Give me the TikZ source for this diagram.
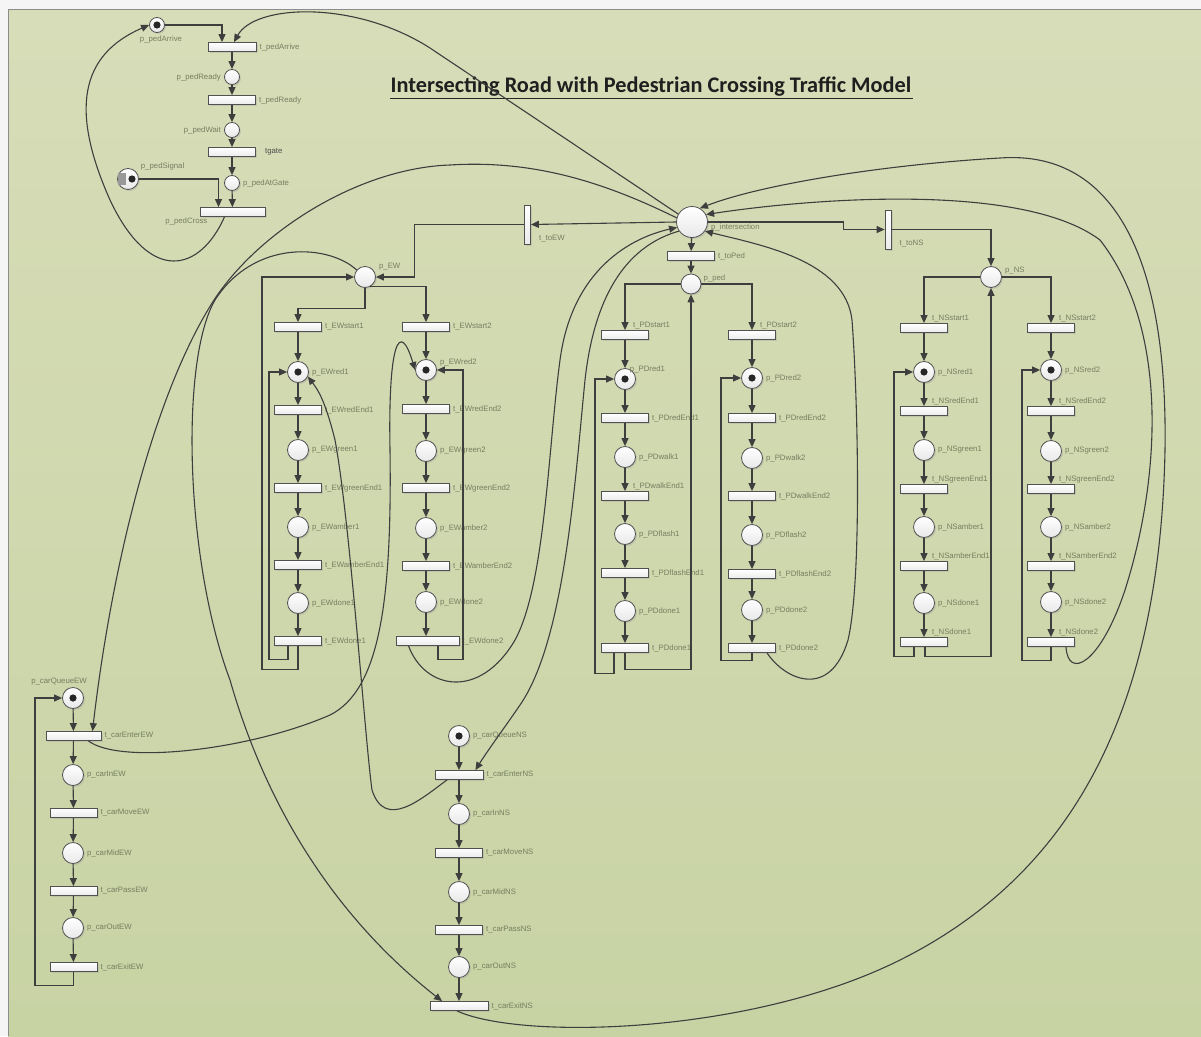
\documentclass[tikz,border=0pt]{standalone}
\usepackage{fontspec}
\setmainfont{Liberation Sans}
\newfontfamily\titlefont{Carlito}
\usetikzlibrary{arrows.meta,shadows}
\definecolor{bgtop}{RGB}{215,221,184}
\definecolor{bgbot}{RGB}{200,211,164}
\definecolor{ln}{RGB}{62,62,62}
\definecolor{labc}{RGB}{118,126,96}
\begin{document}
\begin{tikzpicture}[x=1pt,y=-1pt,
  arc/.style={draw=ln, line width=1.1pt, -{Triangle[length=8pt,width=7pt]}},
  pl/.style={circle, draw=ln!90, line width=0.8pt, inner sep=0pt, minimum size=21pt,
    top color=white, bottom color=black!9,
    drop shadow={shadow xshift=1.5pt, shadow yshift=-1.5pt, fill=black!40, opacity=0.3}},
  spl/.style={pl, minimum size=15pt},
  bpl/.style={pl, minimum size=31pt},
  tok/.style={path picture={\fill[black!85] (path picture bounding box.center) circle (3.6pt);}},
  tr/.style={rectangle, draw=ln!90, line width=0.8pt, inner sep=0pt, minimum width=47pt, minimum height=9pt,
    top color=white, bottom color=black!8,
    drop shadow={shadow xshift=1.5pt, shadow yshift=-1.5pt, fill=black!40, opacity=0.3}},
  vtr/.style={tr, minimum width=6pt, minimum height=39pt},
  lab/.style={font=\fontsize{7.8}{8}\selectfont, text=labc, inner sep=0pt},
  lr/.style={label={[lab,anchor=west,xshift=3pt]east:#1}},
  ll/.style={label={[lab,anchor=east,xshift=-3pt]west:#1}},
  lur/.style={label={[lab,anchor=south west,xshift=-16pt,yshift=1pt]north east:#1}},
]
\useasboundingbox (0,0) rectangle (1201,1036);
% canvas
\fill[black!4] (0,0) rectangle (1201,1036);
\shade[top color=bgtop, bottom color=bgbot] (8,9) rectangle (1201,1036);
\draw[black!45, line width=0.8pt] (8,1036) -- (8,9) -- (1201,9);

% title
\node[inner sep=0pt, text=black!88] (title) at (651,87)
  {\titlefont\bfseries\fontsize{22.3}{24}\selectfont Intersecting Road with Pedestrian Crossing Traffic Model};
\draw[black!85, line width=1pt] (390,98) -- (913,98);

% ---------- pedestrian request cycle (top left)
\node[spl,tok,label={[lab,anchor=north,xshift=4pt,yshift=-3pt]south:p\_pedArrive}] (pa) at (157,25) {};
\node[tr,minimum width=48pt,lr=t\_pedArrive] (ta) at (232,47) {};
\node[spl,ll=p\_pedReady] (pb) at (232,77) {};
\node[tr,lr=t\_pedReady] (tb) at (232,100) {};
\node[spl,ll=p\_pedWait] (pc) at (232,130) {};
\node[tr,label={[lab,text=black!70,anchor=west,xshift=9pt]east:tgate}] (tc) at (232,152) {};
\node[spl,lr=p\_pedAtGate] (pd) at (232,183) {};
\node[tr,minimum width=65pt,label={[lab,anchor=north east,xshift=8pt,yshift=-1pt]south west:p\_pedCross}] (td) at (232.5,212) {};
\node[pl,path picture={\fill[black!85] ([xshift=4pt]path picture bounding box.center) circle (3.6pt);},
      label={[lab,anchor=south west,xshift=5pt,yshift=1pt]north east:p\_pedSignal}] (pe) at (128,179) {};
\node[fill=black!40, inner sep=0pt, minimum width=8pt, minimum height=12pt] (pebox) at (122,179) {};

\foreach \a/\b in {ta/pb, pb/tb, tb/pc, pc/tc, tc/pd, pd/td} \draw[arc] (\a) -- (\b);
\draw[arc] (pa.east) -| ([xshift=-10pt]ta.north);
\draw[arc] (pe.east) -| ([xshift=-14pt]td.north);
\draw[arc] ([xshift=-8pt]td.south) .. controls (200,272) and (150,285) .. (110,200)
  .. controls (70,110) and (80,55) .. (pa.west);

% ---------- central resource and selectors
\node[bpl,label={[lab,anchor=west,xshift=3pt,yshift=-5pt]east:p\_intersection}] (p0) at (692,222) {};
\node[vtr,label={[lab,anchor=west,xshift=8pt,yshift=6pt]south east:t\_toEW}] (tvl) at (527.5,224.5) {};
\node[vtr,label={[lab,anchor=west,xshift=8pt,yshift=6pt]south east:t\_toNS}] (tvr) at (888,229.5) {};
\node[tr,lr=t\_toPed] (tm) at (691,256) {};
\node[pl,minimum size=20pt,label={[lab,anchor=west,xshift=2pt,yshift=6pt]east:p\_ped}] (pM) at (691,284) {};
\node[pl,label={[lab,anchor=west,xshift=3pt,yshift=10pt]east:p\_EW}] (pL) at (365,277) {};
\node[pl,label={[lab,anchor=west,xshift=3pt,yshift=6pt]east:p\_NS}] (pR) at (991,277) {};

\draw[arc] (p0.west) -- (tvl.east);
\draw[arc] (tvl.west) -- ++(-109.5,0) |- (pL.east);
\draw[arc] (p0.east) -- ++(136,0) |- (tvr.west);
\draw[arc] (tvr.east) -| (pR.north);
\draw[arc] (p0) -- (tm);
\draw[arc] (tm) -- (pM);
\draw[arc] (p0.150) -- (430,48) .. controls (355,0) and (255,4) .. ([xshift=2pt]ta.north);

% ---------- EW signal heads (left group)
\node[tr,lr=t\_EWstart1] (tL1a) at (298,327) {};
\node[pl,tok,lr=p\_EWred1] (pL1a) at (298,372) {};
\node[tr,lr=t\_EWredEnd1] (tL1b) at (298,410) {};
\node[pl,lr=p\_EWgreen1] (pL1b) at (298,450) {};
\node[tr,lr=t\_EWgreenEnd1] (tL1c) at (298,488) {};
\node[pl,lr=p\_EWamber1] (pL1c) at (298,527) {};
\node[tr,lr=t\_EWamberEnd1] (tL1d) at (298,565) {};
\node[pl,lr=p\_EWdone1] (pL1d) at (298,603) {};
\node[tr,lr=t\_EWdone1] (tL1e) at (298,641) {};

\node[tr,lr=t\_EWstart2] (tL2a) at (426,327) {};
\node[pl,tok,label={[lab,anchor=west,xshift=3pt,yshift=8pt]east:p\_EWred2}] (pL2a) at (426,370) {};
\node[tr,lr=t\_EWredEnd2] (tL2b) at (426,409) {};
\node[pl,lr=p\_EWgreen2] (pL2b) at (426,451) {};
\node[tr,lr=t\_EWgreenEnd2] (tL2c) at (426,488) {};
\node[pl,lr=p\_EWamber2] (pL2c) at (426,528) {};
\node[tr,lr=t\_EWamberEnd2] (tL2d) at (426,566) {};
\node[pl,lr=p\_EWdone2] (pL2d) at (426,602) {};
\node[tr,minimum width=63pt,lr=t\_EWdone2] (tL2e) at (427.5,641) {};

\foreach \a/\b in {tL1a/pL1a, pL1a/tL1b, tL1b/pL1b, pL1b/tL1c, tL1c/pL1c, pL1c/tL1d, tL1d/pL1d, pL1d/tL1e,
                   tL2a/pL2a, pL2a/tL2b, tL2b/pL2b, pL2b/tL2c, tL2c/pL2c, pL2c/tL2d, tL2d/pL2d}
  \draw[arc] (\a) -- (\b);
\draw[arc] (pL2d.south) -- (pL2d.south |- tL2e.north);
\draw[arc] (pL.south) -- ++(0,20.5) -| (tL1a.north);
\draw[arc] (pL.-60) -| (tL2a.north);
\draw[arc] ([xshift=-10pt]tL1e.south) -- ++(0,13.5) -- ++(-19,0) |- (pL1a.west);
\draw[arc] (tL1e.south) -- ++(0,23.5) -- ++(-36,0) |- (pL.west);
\draw[arc] ([xshift=10.5pt]tL2e.south) -- ++(0,13.5) -- ++(25,0) |- (pL2a.east);

% ---------- pedestrian signal heads (middle group)
\node[tr,lur=t\_PDstart1] (tM1a) at (625,335) {};
\node[pl,tok,label={[lab,anchor=south west,xshift=-3pt,yshift=-2pt]north east:p\_PDred1}] (pM1a) at (625,379) {};
\node[tr,lr=t\_PDredEnd1] (tM1b) at (625,418) {};
\node[pl,lr=p\_PDwalk1] (pM1b) at (625,457) {};
\node[tr,lur=t\_PDwalkEnd1] (tM1c) at (625,496) {};
\node[pl,lr=p\_PDflash1] (pM1c) at (625,534) {};
\node[tr,lr=t\_PDflashEnd1] (tM1d) at (625,573) {};
\node[pl,lr=p\_PDdone1] (pM1d) at (625,611) {};
\node[tr,lr=t\_PDdone1] (tM1e) at (625,648) {};

\node[tr,lur=t\_PDstart2] (tM2a) at (752,335) {};
\node[pl,tok,lr=p\_PDred2] (pM2a) at (752,378) {};
\node[tr,lr=t\_PDredEnd2] (tM2b) at (752,418) {};
\node[pl,lr=p\_PDwalk2] (pM2b) at (752,458) {};
\node[tr,lr=t\_PDwalkEnd2] (tM2c) at (752,496) {};
\node[pl,lr=p\_PDflash2] (pM2c) at (752,535) {};
\node[tr,lr=t\_PDflashEnd2] (tM2d) at (752,574) {};
\node[pl,lr=p\_PDdone2] (pM2d) at (752,610) {};
\node[tr,lr=t\_PDdone2] (tM2e) at (752,648) {};

\foreach \a/\b in {tM1a/pM1a, pM1a/tM1b, tM1b/pM1b, pM1b/tM1c, tM1c/pM1c, pM1c/tM1d, tM1d/pM1d, pM1d/tM1e,
                   tM2a/pM2a, pM2a/tM2b, tM2b/pM2b, pM2b/tM2c, tM2c/pM2c, pM2c/tM2d, tM2d/pM2d, pM2d/tM2e}
  \draw[arc] (\a) -- (\b);
\draw[arc] (pM.west) -| (tM1a.north);
\draw[arc] (pM.east) -| (tM2a.north);
\draw[arc] ([xshift=-11pt]tM1e.south) -- ++(0,20.5) -- ++(-19,0) |- (pM1a.west);
\draw[arc] (tM1e.south) -- ++(0,16.5) -| (pM.south);
\draw[arc] (tM2e.south) -- ++(0,7.5) -- ++(-31,0) |- (pM2a.west);

% ---------- NS signal heads (right group)
\node[tr,lur=t\_NSstart1] (tR1a) at (924,328) {};
\node[pl,tok,lr=p\_NSred1] (pR1a) at (924,372) {};
\node[tr,lur=t\_NSredEnd1] (tR1b) at (924,411) {};
\node[pl,lr=p\_NSgreen1] (pR1b) at (924,450) {};
\node[tr,lur=t\_NSgreenEnd1] (tR1c) at (924,489) {};
\node[pl,lr=p\_NSamber1] (pR1c) at (924,527) {};
\node[tr,lur=t\_NSamberEnd1] (tR1d) at (924,566) {};
\node[pl,lr=p\_NSdone1] (pR1d) at (924,603) {};
\node[tr,lur=t\_NSdone1] (tR1e) at (924,642) {};

\node[tr,lur=t\_NSstart2] (tR2a) at (1051,328) {};
\node[pl,tok,lr=p\_NSred2] (pR2a) at (1051,370) {};
\node[tr,lur=t\_NSredEnd2] (tR2b) at (1051,411) {};
\node[pl,lr=p\_NSgreen2] (pR2b) at (1051,451) {};
\node[tr,lur=t\_NSgreenEnd2] (tR2c) at (1051,489) {};
\node[pl,lr=p\_NSamber2] (pR2c) at (1051,527) {};
\node[tr,lur=t\_NSamberEnd2] (tR2d) at (1051,566) {};
\node[pl,lr=p\_NSdone2] (pR2d) at (1051,602) {};
\node[tr,lur=t\_NSdone2] (tR2e) at (1051,642) {};

\foreach \a/\b in {tR1a/pR1a, pR1a/tR1b, tR1b/pR1b, pR1b/tR1c, tR1c/pR1c, pR1c/tR1d, tR1d/pR1d, pR1d/tR1e,
                   tR2a/pR2a, pR2a/tR2b, tR2b/pR2b, pR2b/tR2c, tR2c/pR2c, pR2c/tR2d, tR2d/pR2d, pR2d/tR2e}
  \draw[arc] (\a) -- (\b);
\draw[arc] (pR.west) -| (tR1a.north);
\draw[arc] (pR.east) -| (tR2a.north);
\draw[arc] ([xshift=-10pt]tR1e.south) -- ++(0,9.5) -- ++(-20,0) |- (pR1a.west);
\draw[arc] ([xshift=1pt]tR1e.south) -- ++(0,9.5) -| (pR.south);
\draw[arc] (tR2e.south) -- ++(0,13.5) -- ++(-29,0) |- (pR2a.west);

% ---------- EW vehicle flow (bottom left)
\node[pl,tok,label={[lab,anchor=south,xshift=-14pt,yshift=2pt]north:p\_carQueueEW}] (pBL1) at (73,698) {};
\node[tr,minimum width=55pt,lr=t\_carEnterEW] (tBL1) at (73.5,736) {};
\node[pl,lr=p\_carInEW] (pBL2) at (73,775) {};
\node[tr,lr=t\_carMoveEW] (tBL2) at (73.5,813) {};
\node[pl,lr=p\_carMidEW] (pBL3) at (73,853) {};
\node[tr,lr=t\_carPassEW] (tBL3) at (73.5,891) {};
\node[pl,lr=p\_carOutEW] (pBL4) at (73,928) {};
\node[tr,lr=t\_carExitEW] (tBL4) at (73.5,967) {};
\foreach \a/\b in {pBL1/tBL1, tBL1/pBL2, pBL2/tBL2, tBL2/pBL3, pBL3/tBL3, tBL3/pBL4, pBL4/tBL4}
  \draw[arc] (\a) -- (\b);
\draw[arc] (tBL4.south) -- ++(0,13.5) -- ++(-38.5,0) |- (pBL1.west);

% ---------- NS vehicle flow (bottom middle)
\node[pl,tok,lr=p\_carQueueNS] (pB1) at (459,736) {};
\node[tr,minimum width=48pt,lr=t\_carEnterNS] (tB1) at (459,775) {};
\node[pl,lr=p\_carInNS] (pB2) at (459,814) {};
\node[tr,lr=t\_carMoveNS] (tB2) at (459,853) {};
\node[pl,lr=p\_carMidNS] (pB3) at (459,892) {};
\node[tr,lr=t\_carPassNS] (tB3) at (459,930) {};
\node[pl,lr=p\_carOutNS] (pB4) at (459,967) {};
\node[tr,minimum width=58pt,lr=t\_carExitNS] (tB4) at (459,1006) {};
\foreach \a/\b in {pB1/tB1, tB1/pB2, pB2/tB2, tB2/pB3, pB3/tB3, tB3/pB4, pB4/tB4}
  \draw[arc] (\a) -- (\b);

% ---------- long feedback arcs
% intersection -> EW vehicle entry
\draw[arc] (p0.165) .. controls (600,180) and (530,160) .. (450,165)
  .. controls (360,168) and (260,230) .. (214,300)
  .. controls (150,400) and (110,580) .. ([xshift=19pt]tBL1.north);
% EW vehicle entry -> second EW red
\draw[arc] ([xshift=-13pt]tBL1.south east) .. controls (120,765) and (250,750) .. (330,715)
  .. controls (380,690) and (392,600) .. (390,450)
  .. controls (388,340) and (400,320) .. (pL2a.west);
% NS vehicle entry -> first EW red
\draw[arc] ([xshift=-12pt]tB1.south) .. controls (420,800) and (385,830) .. (372,790)
  .. controls (365,740) and (350,520) .. (335,440)
  .. controls (325,400) and (318,390) .. (pL1a.-25);
% EW group -> NS vehicle exit
\draw[arc] (pL.140) .. controls (330,245) and (255,238) .. (215,300)
  .. controls (180,360) and (185,560) .. (230,680)
  .. controls (270,820) and (345,925) .. ([xshift=-17pt]tB4.north);
% second EW head done -> intersection
\draw[arc] ([xshift=-19pt]tL2e.south) .. controls (425,690) and (480,700) .. (515,640)
  .. controls (545,585) and (548,450) .. (560,360)
  .. controls (572,270) and (630,238) .. (p0.200);
% intersection -> NS vehicle entry
\draw[arc] (p0.215) .. controls (630,245) and (595,290) .. (585,380)
  .. controls (575,480) and (565,640) .. (520,705)
  .. controls (505,727) and (488,750) .. ([xshift=-8pt]tB1.north east);
% second pedestrian head done -> intersection
\draw[arc] ([xshift=15pt]tM2e.south) .. controls (785,680) and (830,700) .. (848,640)
  .. controls (862,580) and (858,400) .. (852,320)
  .. controls (845,260) and (760,245) .. (p0.-35);
% second NS head done -> intersection
\draw[arc] ([xshift=15pt]tR2e.south) .. controls (1068,680) and (1100,665) .. (1125,590)
  .. controls (1160,480) and (1170,330) .. (1100,240)
  .. controls (1020,180) and (800,200) .. (p0.28);
% NS vehicle exit -> intersection
\draw[arc] ([xshift=-2pt]tB4.south) .. controls (520,1040) and (750,1035) .. (900,960)
  .. controls (1080,870) and (1160,700) .. (1165,450)
  .. controls (1168,250) and (1110,150) .. (1000,158)
  .. controls (880,165) and (760,185) .. (p0.60);
\end{tikzpicture}
\end{document}
